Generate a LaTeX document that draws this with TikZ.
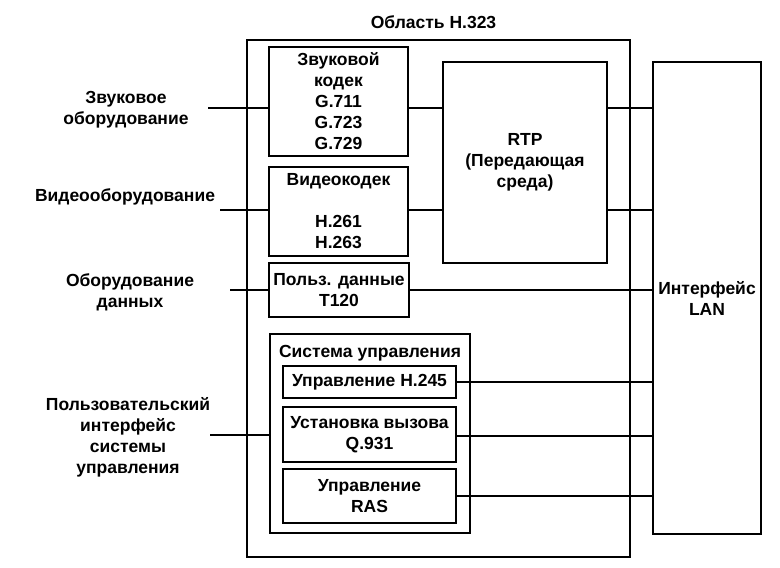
\documentclass[tikz,border=0pt]{standalone}
\usepackage{fontspec}
\setmainfont{Liberation Sans}
\begin{document}
\begin{tikzpicture}[x=1pt,y=-1pt,line width=1.4pt,
  every node/.style={font=\fontsize{17.5}{21}\selectfont\bfseries},
  box/.style={draw,rectangle,inner sep=0pt,align=center},
  txt/.style={align=center,inner sep=0pt}]
\useasboundingbox (0,0) rectangle (780,568);
% outer area
\node[box,minimum width=383pt,minimum height=517pt] (area) at (438.5,298.5) {};
\node[txt] (title) at (433.5,22) {Область H.323};
% codecs
\node[box,minimum width=139pt,minimum height=109pt] (audio) at (338.5,101.5) {Звуковой\\кодек\\G.711\\G.723\\G.729};
\node[box,minimum width=139pt,minimum height=89pt] (video) at (338.5,211.5) {Видеокодек\\ \\H.261\\H.263};
\node[box,minimum width=140pt,minimum height=54pt] (data) at (339,290) {Польз. данные\\T120};
\node[box,minimum width=164pt,minimum height=201pt] (rtp) at (525,162.5) {RTP\\(Передающая\\среда)};
\node[box,minimum width=108pt,minimum height=472pt] (lan) at (707,298) {Интерфейс\\LAN};
% control system
\node[box,minimum width=200pt,minimum height=199pt] (ctrl) at (370,433.5) {};
\node[txt] (ctrltitle) at (370,353) {Система управления};
\node[box,minimum width=173pt,minimum height=32pt] (h245) at (369.5,382) {Управление H.245};
\node[box,minimum width=173pt,minimum height=55pt] (call) at (369.5,434.5) {Установка вызова\\Q.931};
\node[box,minimum width=173pt,minimum height=54pt] (ras) at (369.5,496) {Управление\\RAS};
% left labels
\node[txt] (laudio) at (126,110) {Звуковое\\оборудование};
\node[txt] (lvideo) at (125,197) {Видеооборудование};
\node[txt] (ldata) at (130,292) {Оборудование\\данных};
\node[txt] (lctrl) at (128,437) {Пользовательский\\интерфейс\\системы\\управления};
% free ends
\coordinate (ea) at (208,108);
\coordinate (ev) at (220,210);
\coordinate (ed) at (230,290);
\coordinate (ec) at (210,435);
\coordinate (ek) at (0,436);
% connectors
\draw (ea) -- (audio.west |- ea);
\draw (audio.east |- ea) -- (rtp.west |- ea);
\draw (rtp.east |- ea) -- (lan.west |- ea);
\draw (ev) -- (video.west |- ev);
\draw (video.east |- ev) -- (rtp.west |- ev);
\draw (rtp.east |- ev) -- (lan.west |- ev);
\draw (ed) -- (data.west);
\draw (data.east) -- (lan.west |- data.east);
\draw (ec) -- (ctrl.west |- ec);
\draw (h245.east) -- (lan.west |- h245.east);
\draw (call.east |- ek) -- (lan.west |- ek);
\draw (ras.east) -- (lan.west |- ras.east);
\end{tikzpicture}
\end{document}
